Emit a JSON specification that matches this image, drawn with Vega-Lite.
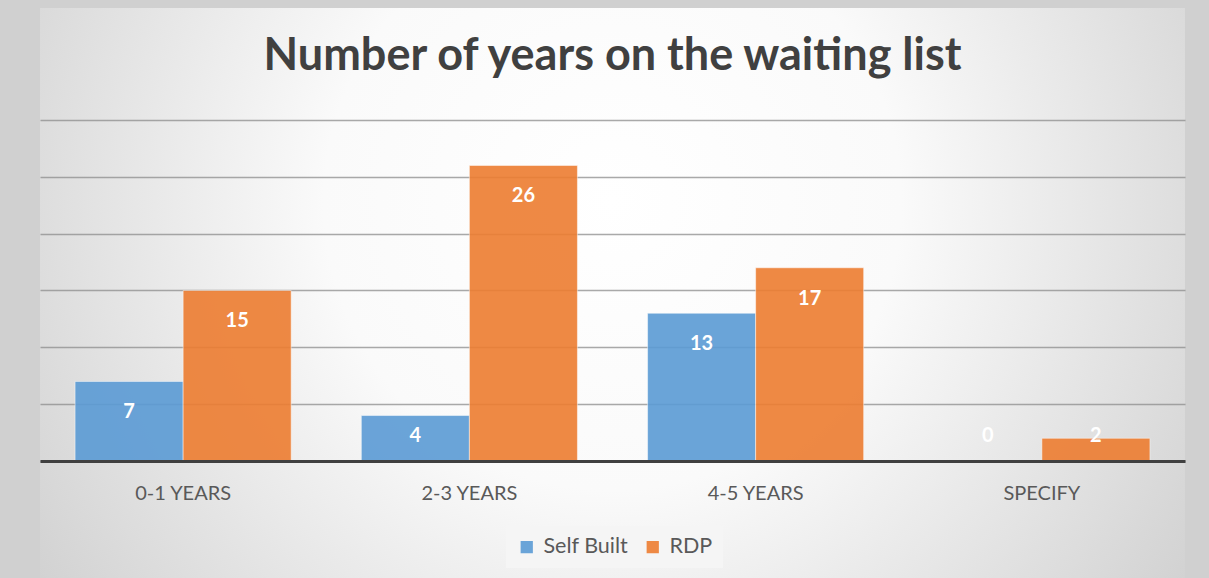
{
  "$schema": "https://vega.github.io/schema/vega-lite/v6.json",
  "width": 1145,
  "height": 570,
  "autosize": {"type": "none"},
  "padding": {"left": 40, "top": 8, "right": 24, "bottom": 0},
  "background": "#d0d0d0",
  "title": {
    "text": "Number of years on the waiting list",
    "font": "Lato",
    "fontSize": 45,
    "fontWeight": "bold",
    "color": "#404040",
    "anchor": "middle",
    "frame": "group",
    "orient": "top",
    "baseline": "alphabetic",
    "offset": -107
  },
  "config": {
    "view": {
      "stroke": null,
      "fill": {
        "gradient": "radial",
        "x1": 0.5, "y1": 0.42, "r1": 0,
        "x2": 0.5, "y2": 0.42, "r2": 0.72,
        "stops": [
          {"offset": 0, "color": "#ffffff"},
          {"offset": 0.35, "color": "#fafafa"},
          {"offset": 1, "color": "#c4c4c4"}
        ]
      }
    }
  },
  "data": {
    "values": [
      {"category": "0-1 YEARS", "series": "Self Built", "value": 7},
      {"category": "0-1 YEARS", "series": "RDP", "value": 15},
      {"category": "2-3 YEARS", "series": "Self Built", "value": 4},
      {"category": "2-3 YEARS", "series": "RDP", "value": 26},
      {"category": "4-5 YEARS", "series": "Self Built", "value": 13},
      {"category": "4-5 YEARS", "series": "RDP", "value": 17},
      {"category": "SPECIFY", "series": "Self Built", "value": 0},
      {"category": "SPECIFY", "series": "RDP", "value": 2}
    ]
  },
  "encoding": {
    "x": {
      "field": "category",
      "type": "nominal",
      "sort": ["0-1 YEARS", "2-3 YEARS", "4-5 YEARS", "SPECIFY"],
      "scale": {"paddingInner": 0.245, "paddingOuter": 0.1225},
      "axis": {
        "title": null,
        "orient": "bottom",
        "offset": -117,
        "zindex": 1,
        "ticks": false,
        "labelAngle": 0,
        "labelFont": "Lato",
        "labelFontSize": 20,
        "labelColor": "#595959",
        "labelPadding": 22,
        "domainColor": "#404040",
        "domainWidth": 3,
        "grid": false
      }
    },
    "xOffset": {
      "field": "series",
      "sort": ["Self Built", "RDP"],
      "scale": {"paddingInner": 0, "paddingOuter": 0}
    }
  },
  "layer": [
    {
      "mark": {"type": "bar", "opacity": 0.9, "stroke": "#ffffff", "strokeOpacity": 0.5, "strokeWidth": 1},
      "encoding": {
        "y": {
          "field": "value",
          "type": "quantitative",
          "scale": {"domain": [-10.293, 39.853], "nice": false, "zero": false},
          "axis": {
            "title": null,
            "values": [0, 5, 10, 15, 20, 25, 30],
            "labels": false,
            "ticks": false,
            "domain": false,
            "grid": true,
            "gridColor": "#8c8c8c",
            "gridOpacity": 0.75,
            "gridWidth": 1.5
          }
        },
        "y2": {"datum": 0},
        "color": {
          "field": "series",
          "type": "nominal",
          "sort": ["Self Built", "RDP"],
          "scale": {"domain": ["Self Built", "RDP"], "range": ["#5B9BD5", "#ED7D31"]},
          "legend": {
            "title": null,
            "orient": "none",
            "direction": "horizontal",
            "legendX": 466,
            "legendY": 518,
            "fillColor": "#f5f5f5",
            "padding": 10,
            "labelFont": "Lato",
            "labelFontSize": 21.5,
            "labelColor": "#595959",
            "symbolType": "square",
            "symbolSize": 150,
            "symbolStrokeWidth": 0,
            "symbolOpacity": 0.9,
            "columnPadding": 13,
            "labelOffset": 6
          }
        }
      }
    },
    {
      "transform": [{"filter": "datum.value >= 5"}],
      "mark": {"type": "text", "dy": 31, "font": "Lato", "fontSize": 20, "fontWeight": "bold", "color": "#ffffff"},
      "encoding": {
        "y": {"field": "value", "type": "quantitative"},
        "text": {"field": "value", "type": "quantitative"}
      }
    },
    {
      "transform": [{"filter": "datum.value < 5"}],
      "mark": {"type": "text", "dy": 31, "font": "Lato", "fontSize": 20, "fontWeight": "bold", "color": "#ffffff"},
      "encoding": {
        "y": {"datum": 4.93},
        "text": {"field": "value", "type": "quantitative"}
      }
    }
  ]
}
